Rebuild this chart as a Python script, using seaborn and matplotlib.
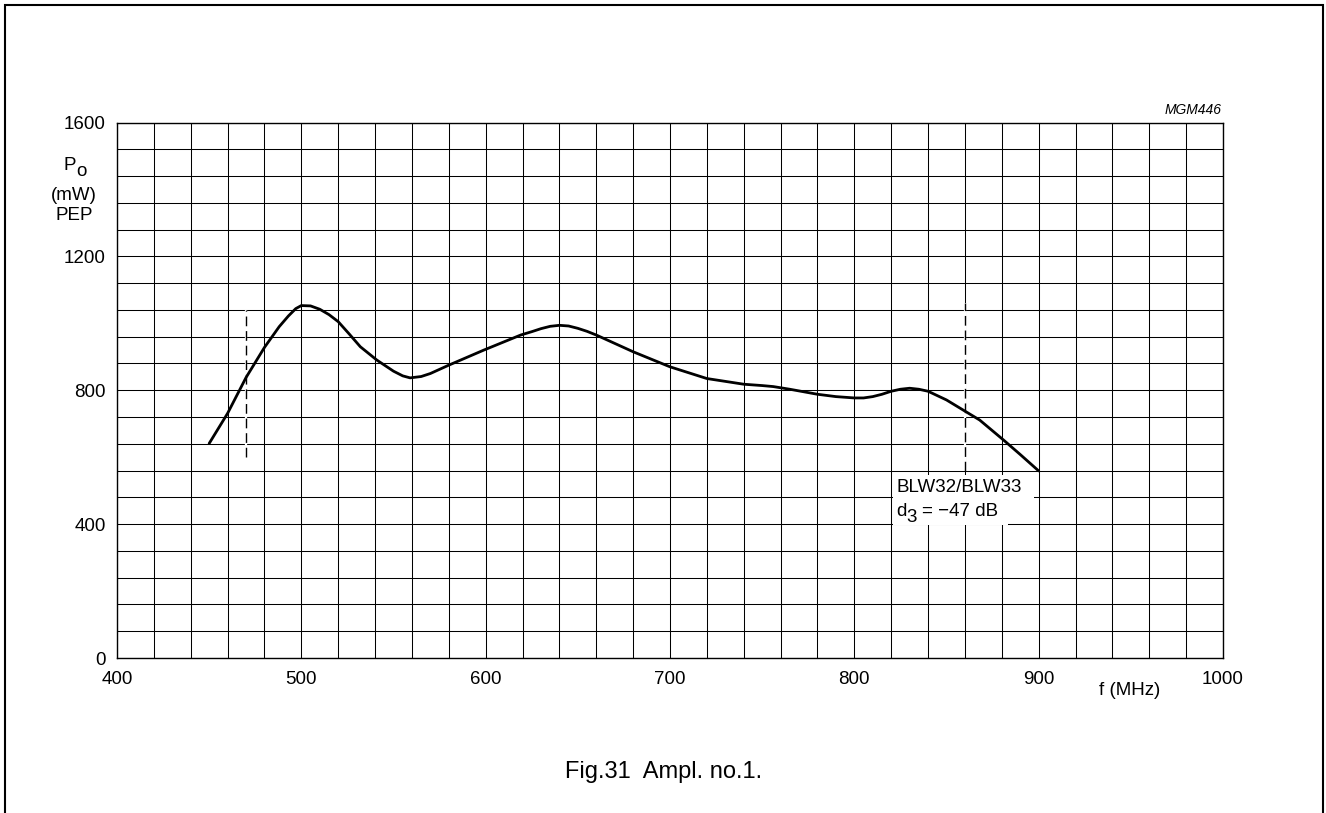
import matplotlib
matplotlib.use("Agg")
import matplotlib.pyplot as plt
import pandas as pd
import seaborn as sns

# Output power versus frequency (Ampl. no.1)
freq_mhz = [450, 460, 470, 480, 488, 493, 497, 500, 505, 510, 515, 520, 526,
            532, 541, 550, 555, 559, 565, 570, 580, 599, 619, 625, 630, 635,
            640, 645, 650, 655, 660, 680, 700, 720, 740, 750, 756, 765, 780,
            790, 800, 805, 810, 815, 820, 825, 830, 835, 840, 850, 859, 868,
            881, 890, 900]
power_mw = [641, 731, 838, 928, 990, 1022, 1044, 1053, 1052, 1042, 1026, 1005, 968,
            930, 890, 857, 843, 837, 841, 850, 875, 920, 965, 975, 984, 991,
            994, 992, 985, 976, 965, 915, 870, 835, 818, 814, 811, 803, 788,
            781, 777, 777, 781, 788, 797, 803, 806, 803, 797, 771, 741, 711,
            651, 608, 559]

# Band-edge markers (dashed verticals)
marker_freqs = [470, 860]
marker_low = [600, 560]
marker_high = [1040, 1060]

x_ticks = [400, 500, 600, 700, 800, 900, 1000]
y_ticks = [0, 400, 800, 1200, 1600]
x_grid_step = 20
y_grid_step = 80

W, H = 1326, 813


def fx(px):
    return px / W


def fy(py):
    return 1 - py / H


sns.set_theme(style="white")
plt.rcParams["font.family"] = ["Liberation Sans", "DejaVu Sans"]
plt.rcParams["text.color"] = "black"

fig = plt.figure(figsize=(W / 100, H / 100), dpi=100)
fig.patch.set_facecolor("white")
ax = fig.add_axes([fx(117), fy(658), (1223 - 117) / W, (658 - 122.5) / H])
ax.set_facecolor("white")

df = pd.DataFrame({"f": freq_mhz, "P": power_mw})
sns.lineplot(data=df, x="f", y="P", ax=ax, color="black", linewidth=2.0,
             sort=False, zorder=4)

# Markers: a white underlay breaks any grid line they sit on, so the gaps show
ax.vlines(marker_freqs, marker_low, marker_high, colors="white",
          linewidth=1.6, zorder=2.5)
ax.vlines(marker_freqs, marker_low, marker_high, colors="black",
          linewidth=1.0, linestyles=[(0, (7, 3.5))], zorder=3)

ax.set_xlim(400, 1000)
ax.set_ylim(0, 1600)
ax.set_xticks(x_ticks)
ax.set_xticklabels([str(v) for v in x_ticks])
ax.set_yticks(y_ticks)
ax.set_yticklabels([str(v) for v in y_ticks])
ax.set_xticks(list(range(400, 1001, x_grid_step)), minor=True)
ax.set_yticks(list(range(0, 1601, y_grid_step)), minor=True)
ax.grid(which="both", color="black", linewidth=0.75, zorder=1)
ax.set_axisbelow(True)
ax.tick_params(which="both", length=0, labelsize=13.5, colors="black")
ax.tick_params(axis="x", pad=9.5)
ax.tick_params(axis="y", pad=8)
ax.set_xlabel("")
ax.set_ylabel("")
for sp in ax.spines.values():
    sp.set_color("black")
    sp.set_linewidth(1.0)

txt = dict(color="black", fontsize=13.5)

# Curve annotation, set on white patches that hide the grid behind it
for (x0, y0, x1, y1) in [(893, 475, 1034, 500), (893, 500, 1008, 525)]:
    fig.patches.append(plt.Rectangle((fx(x0), fy(y1)), (x1 - x0) / W, (y1 - y0) / H,
                                     transform=fig.transFigure, facecolor="white",
                                     edgecolor="none", zorder=5))
fig.text(fx(896), fy(487), "BLW32/BLW33", ha="left", va="center", zorder=6, **txt)
fig.text(fx(896), fy(511), "d", ha="left", va="center", zorder=6, **txt)
fig.text(fx(906), fy(517), "3", ha="left", va="center", zorder=6, **txt)
fig.text(fx(922), fy(511), "= \u221247 dB", ha="left", va="center", zorder=6, **txt)

# Axis titles
fig.text(fx(70), fy(165), "P", ha="center", va="center", **txt)
fig.text(fx(81), fy(172), "o", ha="center", va="center", **txt)
fig.text(fx(74), fy(195), "(mW)", ha="center", va="center", **txt)
fig.text(fx(74), fy(216), "PEP", ha="center", va="center", **txt)
fig.text(fx(1130), fy(690), "f (MHz)", ha="center", va="center", **txt)

fig.text(fx(1222), fy(110), "MGM446", ha="right", va="center", fontsize=10,
         style="italic", color="black")
fig.text(fx(664), fy(772), "Fig.31  Ampl. no.1.", ha="center", va="center",
         fontsize=17, color="black")

# Page frame
fig.patches.append(plt.Rectangle((fx(4.5), -0.1), (1322.5 - 4.5) / W, 1.1 - 5.5 / H,
                                 transform=fig.transFigure, fill=False,
                                 edgecolor="black", linewidth=1.5))

fig.savefig("out.png", dpi=100, facecolor="white")
